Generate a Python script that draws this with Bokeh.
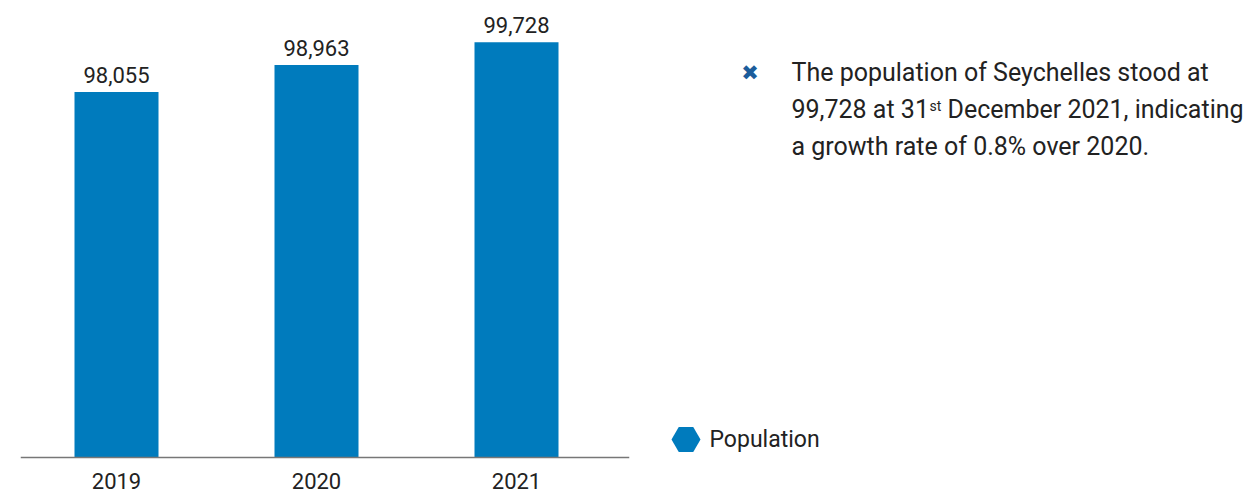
from bokeh.plotting import figure
from bokeh.layouts import row
from bokeh.models import Range1d, Span, Label, ColumnDataSource
from bokeh.core.properties import value
from bokeh.embed import file_html
from bokeh.resources import INLINE

# ---- data ----
years = [2019, 2020, 2021]
year_labels = ["2019", "2020", "2021"]
population = [98055, 98963, 99728]
value_labels = ["98,055", "98,963", "99,728"]
legend_label = "Population"
note_line1 = "The population of Seychelles stood at"
note_line2a = "99,728 at 31"
note_sup = "st"
note_line2b = "December 2021, indicating"
note_line3 = "a growth rate of 0.8% over 2020."

# ---- style ----
BAR_COLOR = "#007BBD"
TEXT_COLOR = "#222222"
AXIS_COLOR = "#777777"
FONT = "Roboto"

Y_BASE = 85800          # value at the axis line
UPP = 33.54             # value units per pixel
H = 495

src = ColumnDataSource(dict(year=years, pop=population, vlabel=value_labels, ylabel=year_labels))

p = figure(width=640, height=H,
           x_range=Range1d(2018.52, 2021.565),
           y_range=Range1d(Y_BASE - 38 * UPP, Y_BASE + 457 * UPP),
           output_backend="svg", toolbar_location=None,
           x_axis_location=None, y_axis_location=None,
           min_border_left=20, min_border_right=11, min_border_top=0, min_border_bottom=0,
           outline_line_color=None)
for g in p.grid:
    g.visible = False

p.vbar(x="year", top="pop", bottom=Y_BASE, width=0.42, source=src,
       fill_color=BAR_COLOR, line_color=None)
p.add_layout(Span(location=Y_BASE, dimension="width", line_color=AXIS_COLOR, line_width=1.5))

p.text(x="year", y="pop", text="vlabel", source=src, text_align="center",
       text_baseline="alphabetic", y_offset=-17, text_font=value(FONT),
       text_font_size="22px", text_color=TEXT_COLOR)
p.text(x="year", y=Y_BASE, text="ylabel", source=src, text_align="center",
       text_baseline="alphabetic", y_offset=23, text_font=value(FONT),
       text_font_size="22px", text_color=TEXT_COLOR)

# ---- right panel: note + legend ----
q = figure(width=605, height=H, x_range=Range1d(0, 605), y_range=Range1d(0, H),
           output_backend="svg", toolbar_location=None,
           x_axis_location=None, y_axis_location=None,
           min_border=0, outline_line_color=None)
for g in q.grid:
    g.visible = False

def lab(text, x, y, size, color=TEXT_COLOR, font=FONT, align="left", baseline="alphabetic"):
    q.add_layout(Label(x=x, y=y, text=text, text_font=font, text_font_size=size,
                       text_color=color, text_align=align, text_baseline=baseline))

lab("\u2716", 109.5, 422.5, "21px", color="#1c5d9b", font="DejaVu Sans", align="center", baseline="middle")
lab(note_line1, 151, 423.5, "25px")
lab(note_line2a, 151, 386.5, "25px")
lab(note_sup, 289, 390, "14px")
lab(note_line2b, 307, 386.5, "25px")
lab(note_line3, 151, 349.5, "25px")

q.scatter(x=[45.5], y=[56], marker="hex", size=29, fill_color=BAR_COLOR, line_color=None)
lab(legend_label, 69, 56.3, "23px")

layout = row(p, q)
open("out.html", "w").write(file_html(layout, INLINE))
